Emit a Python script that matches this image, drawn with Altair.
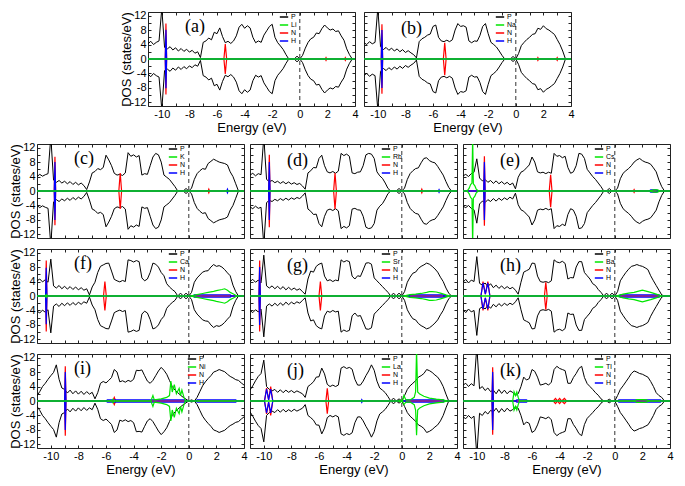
import altair as alt
import pandas as pd

# ---------------- axes / grid ----------------
E_GRID = [round(-11.0 + 0.2 * i, 1) for i in range(76)]   # energy sampling of the P curves
X_MIN, X_MAX = -11, 4
Y_MIN, Y_MAX = -13, 13
FERMI = [0.0]
X_TICKS = list(range(-11, 5))
Y_TICKS = list(range(-12, 13, 2))
COLORS = ["#000000", "#00e600", "#ff0000", "#0000ff"]

# ---------------- (a) Li ----------------
a_P = [4.2, 4.9, 4.0, 4.6, 5.0, 14.0, 3.2, 2.8, 3.4, 2.5,
       3.1, 2.2, 2.9, 2.1, 2.7, 1.9, 2.4, 1.6, 2.0, 0.4,
       4.6, 5.0, 5.8, 5.3, 7.4, 7.0, 8.6, 6.2, 4.5, 4.9,
       4.3, 5.0, 6.4, 8.8, 9.6, 8.5, 9.2, 8.6, 6.0, 4.5,
       5.0, 4.6, 6.6, 7.8, 9.0, 9.6, 6.0, 4.5, 3.6, 2.6,
       1.2, 0.0, 0.0, 0.0, 0.8, 0.0, 1.0, 3.0, 4.6, 5.6,
       6.0, 7.2, 7.0, 8.4, 9.4, 8.6, 8.0, 8.3, 7.6, 7.8,
       6.4, 5.2, 2.8, 1.2, 0.0, 0.0]
a_ME = [-11, 4]
a_MV = [0, 0]
a_NE = [-11, -9.75, -9.7, -9.65, -5.5, -5.4, -5.3, 1.85, 1.9, 1.95, 3.25, 3.3, 3.35, 4]
a_NV = [0, 0, 9.8, 0, 0, 4.1, 0, 0, 0.4, 0, 0, 0.4, 0, 0]
a_HE = [-11, -9.75, -9.7, -9.65, 4]
a_HV = [0, 0, 8.1, 0, 0]

# ---------------- (b) Na ----------------
b_P = [4.5, 4.0, 4.8, 4.2, 4.6, 14.0, 3.4, 2.6, 3.2, 2.4,
       3.0, 2.2, 2.8, 2.0, 2.6, 1.8, 2.3, 1.7, 1.2, 0.3,
       4.8, 5.6, 6.0, 6.6, 6.9, 9.0, 9.4, 6.0, 5.0, 4.8,
       5.2, 4.8, 5.3, 8.0, 9.8, 9.0, 9.2, 8.8, 5.0, 4.5,
       5.0, 4.9, 6.5, 9.0, 9.8, 7.0, 4.6, 4.0, 3.3, 2.2,
       1.0, 0.0, 0.0, 0.0, 0.7, 0.0, 1.5, 3.7, 4.6, 5.4,
       6.0, 6.8, 7.0, 8.5, 8.2, 9.2, 8.4, 8.0, 7.4, 6.8,
       5.4, 4.0, 2.2, 0.0, 0.0, 0.0]
b_ME = [-11, 4]
b_MV = [0, 0]
b_NE = [-11, -9.75, -9.7, -9.65, -5.25, -5.15, -5.05, 1.55, 1.6, 1.65, 2.95, 3.0, 3.05, 4]
b_NV = [0, 0, 9.6, 0, 0, 4.5, 0, 0, 0.4, 0, 0, 0.4, 0, 0]
b_HE = [-11, -9.75, -9.7, -9.65, 4]
b_HV = [0, 0, 8.0, 0, 0]

# ---------------- (c) K ----------------
c_P = [4.0, 4.6, 4.1, 4.5, 4.8, 15.0, 3.0, 2.4, 2.9, 2.2,
       2.7, 2.0, 2.6, 1.8, 2.4, 1.7, 2.2, 1.5, 0.4, 2.5,
       5.0, 5.4, 6.2, 5.9, 6.5, 9.9, 8.6, 7.0, 4.9, 4.4,
       4.6, 4.3, 5.0, 10.6, 9.6, 10.0, 9.4, 9.8, 4.4, 4.8,
       4.6, 7.0, 9.4, 10.4, 10.0, 8.0, 4.4, 3.8, 3.2, 2.2,
       1.2, 0.0, 0.0, 0.0, 0.7, 0.0, 0.8, 3.2, 4.8, 5.6,
       6.2, 6.0, 7.6, 8.2, 8.8, 8.4, 8.0, 7.8, 7.6, 7.2,
       5.3, 4.0, 2.0, 0.0, 0.0, 0.0]
c_ME = [-11, 4]
c_MV = [0, 0]
c_NE = [-11, -9.75, -9.7, -9.65, -5.07, -4.97, -4.87, 1.4, 1.45, 1.5, 4]
c_NV = [0, 0, 9.5, 0, 0, 5.0, 0, 0, 0.5, 0, 0]
c_HE = [-11, -9.75, -9.7, -9.65, 2.75, 2.8, 2.85, 4]
c_HV = [0, 0, 8.0, 0, 0, 0.5, 0, 0]

# ---------------- (d) Rb ----------------
d_P = [4.4, 4.9, 4.2, 4.8, 4.5, 15.0, 3.2, 2.6, 2.9, 2.3,
       2.7, 2.1, 2.6, 2.0, 2.5, 1.9, 2.3, 1.8, 2.1, 1.4,
       0.5, 5.0, 5.6, 6.5, 6.4, 9.0, 9.9, 7.0, 5.3, 5.0,
       5.4, 4.9, 5.5, 10.4, 9.8, 10.2, 9.6, 5.0, 4.8, 5.2,
       5.3, 7.0, 10.0, 10.4, 10.2, 9.0, 5.3, 4.2, 3.5, 2.2,
       0.7, 0.0, 0.0, 0.0, 0.7, 0.0, 0.8, 3.2, 4.8, 5.6,
       6.2, 6.4, 7.8, 9.0, 9.2, 8.4, 8.0, 7.8, 6.8, 5.6,
       4.4, 2.6, 1.0, 0.0, 0.0, 0.0]
d_ME = [-11, 4]
d_MV = [0, 0]
d_NE = [-11, -9.65, -9.6, -9.55, -4.94, -4.84, -4.74, 1.4, 1.45, 1.5, 4]
d_NV = [0, 0, 10.0, 0, 0, 5.0, 0, 0, 0.5, 0, 0]
d_HE = [-11, -9.65, -9.6, -9.55, 2.65, 2.7, 2.75, 4]
d_HV = [0, 0, 8.0, 0, 0, 0.4, 0, 0]

# ---------------- (e) Cs ----------------
e_P = [4.2, 4.6, 4.0, 4.8, 5.2, 8.9, 3.6, 2.8, 3.2, 2.4,
       2.9, 2.1, 2.8, 2.0, 2.6, 1.9, 2.4, 1.7, 2.2, 0.6,
       3.8, 5.2, 5.6, 6.4, 7.2, 9.4, 8.0, 5.3, 5.0, 5.2,
       4.8, 5.2, 4.9, 10.4, 9.6, 9.8, 9.2, 9.6, 6.5, 4.9,
       5.3, 7.0, 10.4, 10.2, 9.0, 6.0, 5.0, 4.0, 3.2, 2.2,
       1.2, 0.0, 0.0, 0.7, 0.0, 0.0, 0.8, 3.4, 4.9, 5.6,
       6.2, 7.0, 8.0, 8.6, 9.0, 8.4, 8.0, 7.8, 7.4, 6.4,
       5.3, 3.0, 1.2, 0.0, 0.0, 0.0]
e_ME = [-11, -10.7, -10.55, -10.45, -10.35, -10.3, -10.25, -10.15, -10.05, -9.9, 2.5, 2.8, 3.1, 3.3, 4]
e_MV = [0, 0, 0.8, 1.8, 2.2, 15.0, 2.0, 1.5, 0.6, 0, 0, 0.3, 0.3, 0, 0]
e_NE = [-11, -9.5, -9.45, -9.4, -4.75, -4.65, -4.55, 1.35, 1.4, 1.45, 4]
e_NV = [0, 0, 9.6, 0, 0, 4.5, 0, 0, 0.4, 0, 0]
e_HE = [-11, -9.5, -9.45, -9.4, 2.5, 2.6, 3.0, 3.2, 4]
e_HV = [0, 0, 8.0, 0, 0, 0.3, 0.3, 0, 0]

# ---------------- (f) Ca ----------------
f_P = [4.2, 4.7, 3.9, 4.5, 3.8, 10.2, 2.8, 2.2, 2.9, 2.0,
       2.7, 1.9, 2.6, 1.8, 2.5, 1.7, 2.3, 1.6, 2.0, 0.3,
       2.5, 3.8, 6.5, 8.2, 8.6, 9.0, 9.1, 6.9, 4.6, 4.2,
       3.9, 4.3, 4.0, 10.0, 9.8, 9.4, 9.8, 9.5, 5.0, 4.2,
       4.7, 6.5, 9.1, 8.8, 8.0, 6.5, 5.6, 3.4, 2.5, 1.8,
       1.2, 0.0, 0.8, 0.0, 0.8, 0.0, 1.0, 3.8, 5.0, 5.8,
       6.6, 6.9, 7.0, 8.0, 8.7, 8.2, 8.4, 8.0, 7.3, 6.4,
       5.6, 3.0, 1.2, 0.0, 0.0, 0.0]
f_ME = [-11, -10.4, -10.33, -10.25, 0.1, 0.6, 1.0, 1.4, 1.8, 2.0, 2.4, 2.6, 2.8, 3.0, 3.2, 3.5, 4]
f_MV = [0, 0, 0.4, 0, 0, 0.4, 0.7, 1.0, 1.3, 1.5, 1.8, 2.0, 1.6, 1.0, 0.6, 0, 0]
f_NE = [-11, -10.38, -10.33, -10.28, -6.18, -6.08, -5.98, 4]
f_NV = [0, 0, 9.8, 0, 0, 4.0, 0, 0]
f_HE = [-11, -10.38, -10.33, -10.28, 0.3, 0.4, 3.0, 3.1, 4]
f_HV = [0, 0, 7.8, 0, 0, 0.3, 0.3, 0, 0]

# ---------------- (g) Sr ----------------
g_P = [4.0, 4.6, 3.8, 4.4, 3.6, 11.3, 2.8, 2.2, 2.8, 2.0,
       2.7, 1.9, 2.6, 1.7, 2.4, 1.7, 2.2, 1.6, 2.0, 1.2,
       0.5, 4.7, 6.9, 6.6, 8.2, 8.8, 9.1, 5.5, 4.2, 4.5,
       4.0, 4.4, 4.2, 10.0, 9.4, 9.8, 9.5, 5.5, 4.7, 5.6,
       5.4, 7.2, 9.1, 9.2, 8.8, 5.0, 4.2, 3.4, 2.6, 1.8,
       1.0, 0.0, 0.8, 0.0, 0.8, 0.0, 1.2, 3.8, 5.2, 6.3,
       6.6, 7.6, 8.2, 8.6, 9.1, 8.8, 8.2, 7.5, 6.6, 5.2,
       4.0, 2.2, 0.8, 0.0, 0.0, 0.0]
g_ME = [-11, 0.1, 0.6, 1.0, 1.4, 1.8, 2.0, 2.2, 2.5, 2.8, 3.2, 3.5, 4]
g_MV = [0, 0, 0.4, 0.5, 0.7, 1.0, 1.2, 1.2, 1.1, 0.8, 0.3, 0, 0]
g_NE = [-11, -10.35, -10.3, -10.25, -6.0, -5.9, -5.8, 4]
g_NV = [0, 0, 9.8, 0, 0, 4.0, 0, 0]
g_HE = [-11, -10.35, -10.3, -10.25, 0.5, 0.6, 3.0, 3.1, 4]
g_HV = [0, 0, 8.0, 0, 0, 0.3, 0.3, 0, 0]

# ---------------- (h) Ba ----------------
h_P = [3.8, 4.6, 3.6, 4.4, 4.0, 10.9, 3.5, 3.0, 3.6, 2.6,
       3.4, 2.3, 3.0, 2.1, 2.8, 2.0, 2.6, 2.0, 2.4, 1.6,
       0.5, 3.8, 6.6, 7.0, 7.4, 9.1, 9.0, 5.5, 4.0, 3.8,
       4.0, 3.7, 4.2, 10.0, 9.4, 9.2, 9.6, 9.0, 4.7, 5.1,
       5.0, 8.0, 9.5, 9.5, 6.5, 5.6, 4.7, 3.4, 2.9, 1.8,
       1.0, 0.0, 0.8, 0.0, 0.8, 0.0, 1.2, 4.2, 5.4, 6.5,
       7.4, 8.2, 8.4, 8.7, 8.4, 8.2, 7.8, 7.3, 5.6, 4.2,
       2.9, 1.6, 0.3, 0.0, 0.0, 0.0]
h_ME = [-11, 0.1, 0.6, 1.0, 1.4, 1.8, 2.0, 2.2, 2.6, 3.0, 3.4, 4]
h_MV = [0, 0, 0.5, 0.8, 1.0, 1.4, 1.6, 1.4, 1.0, 0.5, 0, 0]
h_NE = [-11, -9.7, -9.55, -9.38, -9.2, -9.05, -5.1, -5.0, -4.9, 4]
h_NV = [0, 0, 4.0, 0.5, 4.0, 0, 0, 3.8, 0, 0]
h_HE = [-11, -9.7, -9.55, -9.38, -9.2, -9.05, 0.3, 0.4, 3.2, 3.3, 4]
h_HV = [0, 0, 3.6, 0.5, 3.6, 0, 0, 0.3, 0.3, 0, 0]

# ---------------- (i) Ni ----------------
i_P = [1.5, 2.6, 4.0, 4.9, 6.0, 7.0, 7.9, 10.0, 6.0, 3.6,
       3.2, 2.2, 3.0, 2.0, 2.8, 1.9, 2.7, 1.8, 2.6, 1.9,
       2.4, 0.6, 2.3, 4.9, 5.4, 5.0, 5.7, 6.5, 8.7, 8.0,
       5.3, 5.6, 5.2, 5.7, 5.4, 6.0, 8.5, 8.4, 8.6, 7.0,
       5.5, 4.9, 5.7, 7.0, 8.3, 9.3, 8.5, 7.4, 5.7, 4.0,
       3.0, 2.3, 1.6, 1.0, 0.5, 0.0, 0.3, 0.0, 1.0, 2.6,
       4.2, 5.3, 6.2, 7.0, 8.0, 8.3, 8.7, 8.4, 8.1, 7.4,
       6.8, 6.4, 5.9, 5.7, 5.0, 4.4]
i_ME = [-11, -5.6, -5.5, -5.4, -2.75, -2.6, -2.5, -2.0, -1.6, -1.4, -1.3, -1.2, -1.05, -0.9,
        -0.7, -0.6, -0.5, -0.35, -0.25, 4]
i_MV = [0, 0, 0.5, 0, 0, 1.5, 0.3, 0.6, 1.0, 1.5, 5.5, 2.5, 4.5, 2.0, 3.5, 1.5, 3.0, 1.0, 0, 0]
i_NE = [-11, -9.0, -8.95, -8.9, -5.5, -5.4, -5.3, 4]
i_NV = [0, 0, 9.6, 0, 0, 1.0, 0, 0]
i_HE = [-11, -9.0, -8.95, -8.9, -6.0, -5.9, -0.3, -0.2, 0.5, 0.6, 3.4, 3.5, 4]
i_HV = [0, 0, 8.0, 0, 0, 0.3, 0.3, 0, 0, 0.3, 0.3, 0, 0]

# ---------------- (j) La ----------------
j_P = [3.0, 4.2, 5.6, 6.8, 7.6, 11.3, 4.0, 3.2, 2.8, 3.2,
       2.4, 3.1, 2.3, 3.0, 2.4, 2.9, 2.3, 2.8, 2.4, 2.0,
       1.0, 4.0, 4.6, 5.3, 6.6, 6.7, 9.1, 7.5, 4.6, 4.0,
       4.4, 4.0, 4.4, 9.1, 9.5, 9.0, 9.3, 8.8, 6.0, 4.4,
       4.4, 5.5, 7.0, 8.3, 10.0, 8.5, 5.5, 3.6, 3.0, 2.3,
       1.2, 0.0, 0.8, 0.0, 0.6, 0.0, 1.5, 3.2, 4.2, 4.9,
       5.6, 6.6, 7.0, 7.6, 8.7, 8.4, 7.9, 7.2, 6.6, 5.5,
       4.0, 1.9, 0.0, 0.0, 0.0, 0.0]
j_ME = [-11, -0.2, -0.1, 0.05, 0.15, 0.3, 0.6, 0.9, 1.0, 1.07, 1.15, 1.3, 1.6, 2.0, 2.5, 3.0, 3.3, 4]
j_MV = [0, 0, 0.3, 0, 1.5, 0.3, 0.3, 1.0, 2.5, 14.0, 2.5, 1.9, 1.3, 0.8, 0.5, 0.3, 0, 0]
j_MV_DOWN = [0, 0, 0.3, 0, 1.0, 0.3, 0.3, 1.0, 2.5, 9.5, 2.5, 1.9, 1.3, 0.8, 0.5, 0.3, 0, 0]
j_NE = [-11, -9.95, -9.8, -9.65, -9.5, -9.35, -5.5, -5.4, -5.3, 4]
j_NV = [0, 0, 3.6, 0.3, 4.0, 0, 0, 3.5, 0, 0]
j_HE = [-11, -9.95, -9.8, -9.65, -9.5, -9.35, -2.95, -2.9, -2.85, 0.2, 0.3, 3.0, 3.1, 4]
j_HV = [0, 0, 3.3, 0.3, 3.3, 0, 0, 0.4, 0, 0, 0.3, 0.3, 0, 0]

# ---------------- (k) Tl ----------------
k_P = [4.4, 4.9, 4.0, 4.8, 4.2, 15.0, 3.4, 4.0, 2.9, 3.6,
       2.6, 3.0, 2.0, 3.2, 2.1, 3.0, 2.0, 2.8, 2.4, 1.5,
       2.0, 4.0, 6.6, 5.8, 6.2, 8.7, 8.2, 6.6, 4.4, 4.6,
       4.9, 4.4, 5.2, 8.7, 9.6, 9.0, 8.7, 8.4, 4.9, 4.9,
       6.5, 7.6, 9.0, 9.6, 6.5, 4.8, 4.0, 3.2, 2.3, 1.6,
       0.6, 0.0, 0.0, 0.5, 0.0, 0.0, 1.5, 3.2, 4.2, 5.3,
       6.4, 7.6, 8.3, 8.0, 7.6, 7.4, 7.0, 6.6, 5.4, 4.0,
       2.3, 1.5, 1.0, 0.0, 0.0, 0.0]
k_ME = [-11, -7.4, -7.3, -7.2, -7.1, -7.0, -6.9, 1.4, 1.6, 2.0, 2.3, 2.5, 4]
k_MV = [0, 0, 2.5, 1.5, 2.5, 1.0, 0, 0, 0.4, 0.4, 0.3, 0, 0]
k_NE = [-11, -8.9, -8.85, -8.8, -4.45, -4.3, -4.15, -4.0, -3.85, -3.65, -3.5, 4]
k_NV = [0, 0, 9.3, 0, 0, 0.7, 0, 0.7, 0, 0.7, 0, 0]
k_HE = [-11, -8.9, -8.85, -8.8, -7.2, -7.1, -6.4, -6.3, 0.2, 0.3, 3.3, 3.4, 4]
k_HV = [0, 0, 8.0, 0, 0, 0.3, 0.3, 0, 0, 0.3, 0.3, 0, 0]

METALS = {"a": "Li", "b": "Na", "c": "K", "d": "Rb", "e": "Cs", "f": "Ca",
          "g": "Sr", "h": "Ba", "i": "Ni", "j": "La", "k": "Tl"}
SPECS = {
    "a": (a_P, (a_ME, a_MV, None), (a_NE, a_NV), (a_HE, a_HV)),
    "b": (b_P, (b_ME, b_MV, None), (b_NE, b_NV), (b_HE, b_HV)),
    "c": (c_P, (c_ME, c_MV, None), (c_NE, c_NV), (c_HE, c_HV)),
    "d": (d_P, (d_ME, d_MV, None), (d_NE, d_NV), (d_HE, d_HV)),
    "e": (e_P, (e_ME, e_MV, None), (e_NE, e_NV), (e_HE, e_HV)),
    "f": (f_P, (f_ME, f_MV, None), (f_NE, f_NV), (f_HE, f_HV)),
    "g": (g_P, (g_ME, g_MV, None), (g_NE, g_NV), (g_HE, g_HV)),
    "h": (h_P, (h_ME, h_MV, None), (h_NE, h_NV), (h_HE, h_HV)),
    "i": (i_P, (i_ME, i_MV, None), (i_NE, i_NV), (i_HE, i_HV)),
    "j": (j_P, (j_ME, j_MV, j_MV_DOWN), (j_NE, j_NV), (j_HE, j_HV)),
    "k": (k_P, (k_ME, k_MV, None), (k_NE, k_NV), (k_HE, k_HV)),
}

W, H = 207, 94
SPACER_W = 102


def spin_frame(E, up, down, sp):
    if down is None:
        down = up
    rows = [{"E": e, "v": v, "spin": "up", "sp": sp} for e, v in zip(E, up)]
    rows += [{"E": e, "v": -v, "spin": "dn", "sp": sp} for e, v in zip(E, down)]
    return pd.DataFrame(rows)


def make_panel(key, xlabels, ylabels, xtitle, ytitle, legx):
    metal = METALS[key]
    P, M, N, Hy = SPECS[key]
    cscale = alt.Scale(domain=["P", metal, "N", "H"], range=COLORS)
    legend = alt.Legend(title=None, orient="none", legendX=legx, legendY=0,
                        symbolType="stroke", symbolSize=70, symbolStrokeWidth=1.5,
                        labelFontSize=7, labelFont="Liberation Sans", rowPadding=0,
                        padding=0, labelOffset=2, labelLimit=40)
    xs = alt.Scale(domain=[X_MIN, X_MAX], nice=False, zero=False)
    ys = alt.Scale(domain=[Y_MIN, Y_MAX], nice=False, zero=False)
    xb = alt.Axis(orient="bottom", values=X_TICKS, labels=xlabels,
                  labelExpr="datum.value % 2 == 0 ? '' + datum.value : ''",
                  title=xtitle, offset=-3, tickSize=3, domain=False, grid=False,
                  labelPadding=2, titlePadding=2, labelFlush=False)
    yl = alt.Axis(orient="left", values=Y_TICKS, labels=ylabels,
                  labelExpr="datum.value % 4 == 0 ? '' + datum.value : ''",
                  title=ytitle, offset=-3, tickSize=3, domain=False, grid=False,
                  labelPadding=2, titlePadding=-3, labelFlush=False)
    xt = alt.Axis(orient="top", values=X_TICKS, labels=False, title=None,
                  offset=-3, tickSize=3, domain=False, grid=False)
    yr = alt.Axis(orient="right", values=Y_TICKS, labels=False, title=None,
                  offset=-3, tickSize=3, domain=False, grid=False)

    def line(df, xaxis, yaxis, sw):
        return alt.Chart(df).mark_line(clip=True, strokeWidth=sw).encode(
            x=alt.X("E:Q", scale=xs, axis=xaxis),
            y=alt.Y("v:Q", scale=ys, axis=yaxis),
            color=alt.Color("sp:N", scale=cscale, legend=legend),
            detail="spin:N",
        )

    p_layer = line(spin_frame(E_GRID, P, None, "P"), xb, yl, 1.0)
    n_layer = line(spin_frame(N[0], N[1], None, "N"), None, None, 1.2)
    h_layer = line(spin_frame(Hy[0], Hy[1], None, "H"), None, None, 1.2)
    m_layer = line(spin_frame(M[0], M[1], M[2], metal), xt, yr, 1.2)
    rule = alt.Chart(pd.DataFrame({"E": FERMI})).mark_rule(
        strokeDash=[4, 3], color="#333333", strokeWidth=1
    ).encode(x=alt.X("E:Q", scale=xs, axis=None))

    title = alt.TitleParams(text=f"({key})", orient="top", anchor="start", frame="group",
                            offset=-26, dx=37, font="Liberation Serif",
                            fontSize=18, fontWeight="normal", color="black")
    return alt.layer(p_layer, rule, n_layer, h_layer, m_layer).resolve_axis(
        x="independent", y="independent"
    ).properties(width=W, height=H, title=title)


spacer = alt.Chart(pd.DataFrame({"E": [0]})).mark_point(opacity=0).encode(
    x=alt.value(0), y=alt.value(0)
).properties(width=SPACER_W, height=H, view=alt.ViewBackground(stroke="transparent"))

XT = "Energy (eV)"
YT = "DOS (states/eV)"
LX = 131

top = alt.hconcat(
    spacer,
    make_panel("a", True, True, XT, YT, LX),
    make_panel("b", True, False, XT, None, LX),
    spacing=9, bounds="flush",
).resolve_scale(color="independent")
row2 = alt.hconcat(
    make_panel("c", False, True, None, YT, LX),
    make_panel("d", False, False, None, None, LX),
    make_panel("e", False, False, None, None, LX),
    spacing=6, bounds="flush",
).resolve_scale(color="independent")
row3 = alt.hconcat(
    make_panel("f", False, True, None, YT, LX),
    make_panel("g", False, False, None, None, LX),
    make_panel("h", False, False, None, None, LX),
    spacing=6, bounds="flush",
).resolve_scale(color="independent")
row4 = alt.hconcat(
    make_panel("i", True, True, XT, YT, 150),
    make_panel("j", True, False, XT, None, LX),
    make_panel("k", True, False, XT, None, LX),
    spacing=6, bounds="flush",
).resolve_scale(color="independent")

chart = alt.vconcat(top, row2, row3, row4, spacing=6).resolve_scale(
    color="independent"
).properties(padding=0).configure_view(
    stroke="#222222", strokeWidth=1
).configure_axis(
    labelFont="Liberation Sans", titleFont="Liberation Sans", labelFontSize=11,
    titleFontSize=13, titleFontWeight="normal", tickColor="#222222",
    labelColor="black", titleColor="black"
)

chart.save("out.html", embed_options={"renderer": "svg", "actions": False})
